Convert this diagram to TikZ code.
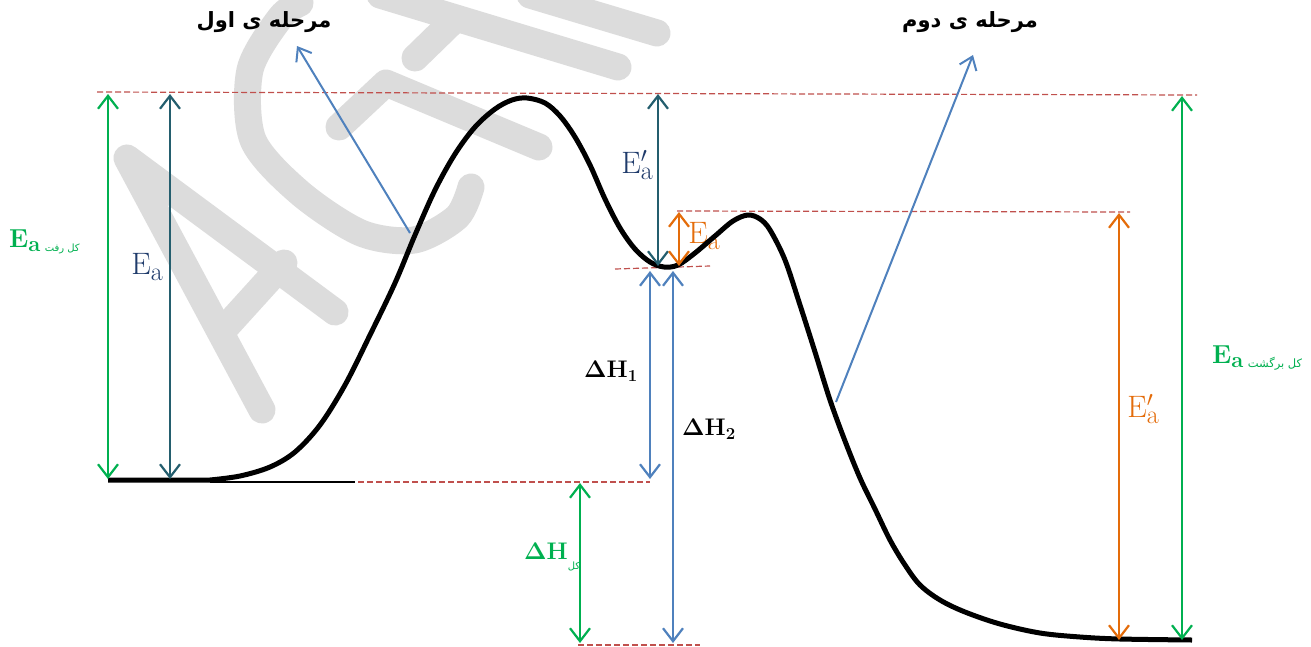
\RequirePackage{fix-cm}
\documentclass[tikz,border=0pt]{standalone}
\usepackage[no-math]{fontspec}
\usetikzlibrary{arrows.meta}
\TeXXeTstate=1
\newfontfamily\arabicfont[Script=Arabic]{DejaVu Sans}
\definecolor{cgreen}{HTML}{00B050}
\definecolor{cteal}{HTML}{245E6E}
\definecolor{cnavy}{HTML}{1F3B6B}
\definecolor{corange}{HTML}{E46C0A}
\definecolor{cblue}{HTML}{4F81BD}
\definecolor{cred}{HTML}{C0504D}
\definecolor{wmgray}{HTML}{DCDCDC}
\newcommand{\myEa}{E\raisebox{-6pt}{\fontsize{26}{27}\selectfont a}}
\newcommand{\myEpa}{E\rlap{$'$}\raisebox{-6pt}{\fontsize{26}{27}\selectfont a}}
\newcommand{\myEab}{\bfseries E\raisebox{-4pt}{\fontsize{22}{23}\selectfont a}}
\begin{document}
\begin{tikzpicture}[x=1pt,y=-1pt,
  dbl/.style={{Straight Barb[length=13pt,width=20pt]}-{Straight Barb[length=13pt,width=20pt]}, line width=2.2pt},
  ptr/.style={-{Straight Barb[length=12pt,width=18pt]}, line width=2pt, draw=cblue},
  lvl/.style={draw=cred, dash pattern=on 6pt off 3pt, line width=1.2pt},
  wm/.style={line width=27pt, draw=wmgray, line cap=round, line join=round},
  lbl/.style={inner sep=0pt, font=\fontsize{31}{34}\selectfont},
  dhl/.style={inner sep=0pt, font=\fontsize{24}{28}\selectfont},
  title/.style={inner sep=0pt, font=\arabicfont\bfseries\fontsize{21}{26}\selectfont}]
\path[fill=white,use as bounding box] (0,0) rectangle (1311,646);
% watermark
\begin{scope}
\clip (0,0) rectangle (1311,646);
\draw[wm] (262,410) -- (127,158) -- (335,312);
\draw[wm] (226,327) -- (284,263);
\draw[wm] plot[smooth] coordinates {(300,3) (280,18) (250,70) (253,140) (300,193) (361,233) (414,240) (457,217) (471,187)};
\draw[wm] (339,127) -- (386,83) -- (539,147);
\draw[wm] (380,-5) -- (618,67);
\draw[wm] (415,58) -- (452,22);
\draw[wm] (530,-5) -- (657,33);
\end{scope}
% level lines
\draw[lvl] (97,92) -- (1197,95);
\draw[lvl] (677,211) -- (1130,212);
\draw[lvl] (615,269) -- (710,266);
\draw[lvl] (340,482) -- (650,482);
\draw[lvl] (578,645) -- (700,645);
% label under curve
\node[lbl, text=corange] (eaO) at (704,236) {\myEa};
% energy curve
\draw[line width=2pt] (210,482) -- (355,482);
\draw[line width=5pt, line join=round] (108,480) -- (210,480)
  plot[smooth, tension=0.55] coordinates {(210,480) (240,476) (270,467) (295,452) (320,425) (345,385) (370,335) (395,283) (415,235) (435,190) (455,154) (475,127) (495,109) (512,100) (527,98) (545,103) (560,116) (575,137) (590,165) (605,199) (620,228) (635,249) (650,262) (664,267) (678,265) (695,253) (715,236) (733,221) (748,215) (760,219) (770,230) (785,260) (800,305) (815,352) (830,400) (845,441) (860,478) (875,509) (890,540) (905,565) (920,585) (940,600) (965,612) (1000,624) (1040,633) (1080,637) (1120,639) (1192,640)};
% coordinates for arrows
\coordinate (gLt) at (108,94); \coordinate (gLb) at (108,479);
\coordinate (tLt) at (170,94); \coordinate (tLb) at (170,479);
\coordinate (tMt) at (658,94); \coordinate (tMb) at (658,266);
\coordinate (oMt) at (679,212); \coordinate (oMb) at (679,266);
\coordinate (b1t) at (650,271); \coordinate (b1b) at (650,479);
\coordinate (b2t) at (673,271); \coordinate (b2b) at (673,643);
\coordinate (gBt) at (580,483); \coordinate (gBb) at (580,643);
\coordinate (oRt) at (1119,213); \coordinate (oRb) at (1119,640);
\coordinate (gRt) at (1182,96); \coordinate (gRb) at (1182,640);
\coordinate (p1s) at (410,233); \coordinate (p1e) at (297,46);
\coordinate (p2s) at (836,402); \coordinate (p2e) at (973,55);
% arrows
\draw[dbl, draw=cgreen] (gLt) -- (gLb);
\draw[dbl, draw=cteal] (tLt) -- (tLb);
\draw[dbl, draw=cteal] (tMt) -- (tMb);
\draw[dbl, draw=corange] (oMt) -- (oMb);
\draw[dbl, draw=cblue] (b1t) -- (b1b);
\draw[dbl, draw=cblue] (b2t) -- (b2b);
\draw[dbl, draw=cgreen] (gBt) -- (gBb);
\draw[dbl, draw=corange] (oRt) -- (oRb);
\draw[dbl, draw=cgreen] (gRt) -- (gRb);
\draw[ptr] (p1s) -- (p1e);
\draw[ptr] (p2s) -- (p2e);
% labels
\node[lbl, text=cnavy] (eaL) at (147,267) {\myEa};
\node[lbl, text=cnavy] (eapM) at (637,165) {\myEpa};
\node[lbl, text=corange] (eapR) at (1143,409) {\myEpa};
\node[dhl] (dh1) at (611,371) {$\mathbf{\Delta H_1}$};
\node[dhl] (dh2) at (709,429) {$\mathbf{\Delta H_2}$};
\node[inner sep=0pt, text=cgreen, anchor=west] (gEaL) at (9,242) {\fontsize{26}{28}\selectfont\myEab\,\raisebox{-4pt}{\arabicfont\mdseries\fontsize{10}{12}\selectfont\beginR کل رفت\endR}};
\node[inner sep=0pt, text=cgreen, anchor=west] (gEaR) at (1212,358) {\fontsize{26}{28}\selectfont\myEab\,\raisebox{-4pt}{\arabicfont\mdseries\fontsize{11.5}{13}\selectfont\beginR کل برگشت\endR}};
\node[inner sep=0pt, text=cgreen, anchor=west] (gdH) at (524,557) {\fontsize{24}{28}\selectfont$\mathbf{\Delta H}$\raisebox{-10pt}{\arabicfont\fontsize{10}{12}\selectfont\beginR کل\endR}};
\node[title] (t1) at (264,22) {\beginR مرحله ی اول\endR};
\node[title] (t2) at (970,22) {\beginR مرحله ی دوم\endR};
\end{tikzpicture}
\end{document}
